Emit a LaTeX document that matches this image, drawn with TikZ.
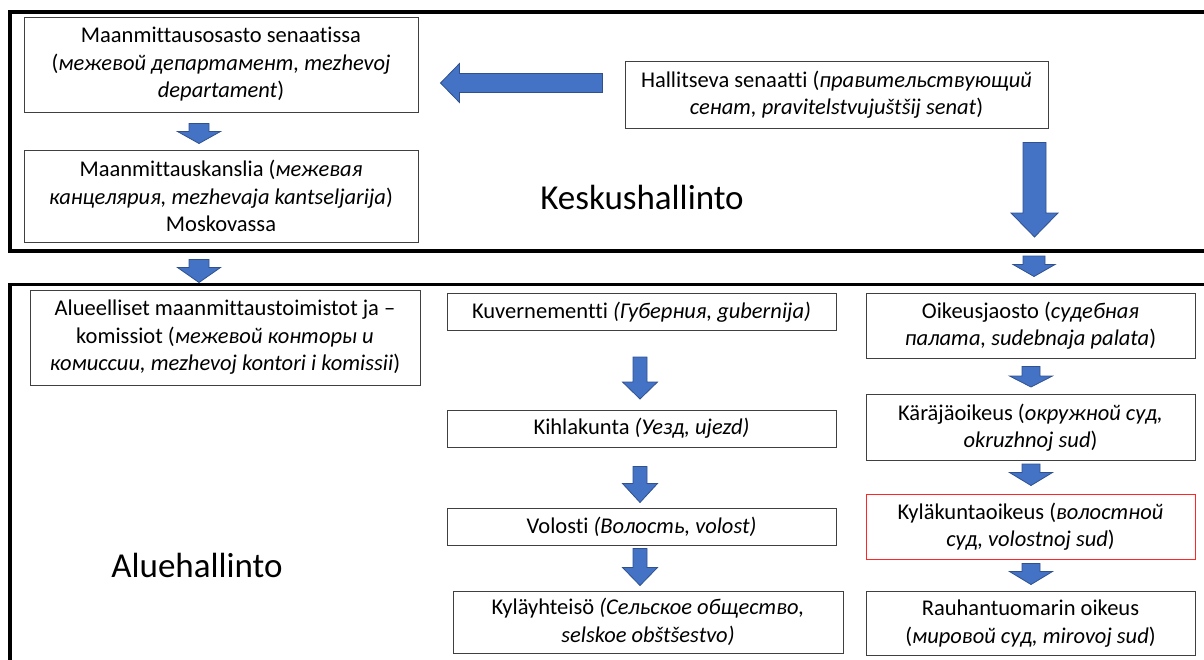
\documentclass[tikz,border=0pt]{standalone}
\usepackage{fontspec}
\setmainfont{Carlito}[Ligatures={TeX,NoCommon}]
\usetikzlibrary{calc,positioning}

\definecolor{arrowblue}{HTML}{4472C4}
\definecolor{arrowedge}{HTML}{2F528F}
\definecolor{boxedge}{HTML}{404040}

\newcommand{\blockdown}[5]{%
  \path[blockarrow] let \p1=#1, \p2=#2 in
    (\x1-#3pt,\y1) -- (\x1+#3pt,\y1) -- (\x1+#3pt,\y2+#5pt) -- (\x1+#4pt,\y2+#5pt)
    -- (\x1,\y2) -- (\x1-#4pt,\y2+#5pt) -- (\x1-#3pt,\y2+#5pt) -- cycle;}
\newcommand{\blockleft}[5]{%
  \path[blockarrow] let \p1=#1, \p2=#2 in
    (\x1,\y1+#3pt) -- (\x1,\y1-#3pt) -- (\x2+#5pt,\y1-#3pt) -- (\x2+#5pt,\y1-#4pt)
    -- (\x2,\y1) -- (\x2+#5pt,\y1+#4pt) -- (\x2+#5pt,\y1+#3pt) -- cycle;}

\begin{document}
\begin{tikzpicture}[x=1pt, y=1pt, node distance=100pt,
  box/.style={rectangle, draw=boxedge, line width=1pt, align=center, inner sep=0pt, font=\fontsize{22.5}{27.5}\selectfont},
  redbox/.style={box, draw=red!85!white},
  frame/.style={rectangle, draw=black, line width=3.5pt, inner sep=0pt, outer sep=0pt},
  level/.style={font=\fontsize{35}{40}\selectfont},
  blockarrow/.style={fill=arrowblue, draw=arrowedge, line width=0.8pt, line join=miter}]
  \useasboundingbox (0,0) rectangle (1204,-659);

  \node[frame, minimum width=1210pt, minimum height=239pt] (central) at (615,-131.5) {};
  \node[frame, minimum width=1210pt, minimum height=420pt] (regional) at (615,-494.5) {};
  \node[level] (keskus) at (642,-197) {Keskushallinto};
  \node[level] (alue) at (197,-565) {Aluehallinto};

  \node[box, minimum width=394pt, minimum height=95pt] (survdept) at (221,-64.5) {Maanmittausosasto senaatissa\\(\textit{межевой департамент, mezhevoj}\\\textit{departament})};
  \node[box, minimum width=394pt, minimum height=92pt, below of=survdept, node distance=131.5pt] (chancery) {Maanmittauskanslia (\textit{межевая}\\\textit{канцелярия, mezhevaja kantseljarija})\\Moskovassa};
  \node[box, minimum width=423pt, minimum height=67pt] (senate) at (836.5,-94.5) {Hallitseva senaatti (\textit{правительствующий}\\\textit{сенат, pravitelstvujuštšij senat})};

  \node[box, minimum width=390pt, minimum height=95pt] (offices) at (225,-337.5) {Alueelliset maanmittaustoimistot ja –\\komissiot (\textit{межевой конторы и}\\\textit{комиссии, mezhevoj kontori i komissii})};
  \node[box, minimum width=389pt, minimum height=37pt] (gubernia) at (641.5,-312) {Kuvernementti \textit{(Губерния, gubernija)}};
  \node[box, minimum width=389pt, minimum height=37pt, below of=gubernia, node distance=116.5pt] (uezd) {Kihlakunta \textit{(Уезд, ujezd)}};
  \node[box, minimum width=389pt, minimum height=37pt, below of=uezd, node distance=98pt] (volost) {Volosti \textit{(Волость, volost)}};
  \node[box, minimum width=390pt, minimum height=62pt] (obshchestvo) at (648,-622) {Kyläyhteisö \textit{(Сельское общество,}\\\textit{selskoe obštšestvo)}};

  \node[box, minimum width=329pt, minimum height=65pt] (palata) at (1030.5,-325.5) {Oikeusjaosto (\textit{судебная}\\\textit{палата, sudebnaja palata})};
  \node[box, minimum width=329pt, minimum height=66pt, below of=palata, node distance=102pt] (okrug) {Käräjäoikeus (\textit{окружной суд,}\\\textit{okruzhnoj sud})};
  \node[redbox, minimum width=329pt, minimum height=65pt, below of=okrug, node distance=99pt] (volsud) {Kyläkuntaoikeus (\textit{волостной}\\\textit{суд, volostnoj sud})};
  \node[box, minimum width=329pt, minimum height=64pt, below of=volsud, node distance=97pt] (mirsud) {Rauhantuomarin oikeus\\(\textit{мировой суд, mirovoj sud})};

  \blockleft{($(senate.west)+(-22,11.5)$)}{($(survdept.east)+(22,-18.5)$)}{9.5}{19.5}{19}
  \blockdown{($(survdept.south)+(-22,-11)$)}{($(chancery.north)+(-22,6)$)}{10}{21.5}{12}
  \blockdown{($(chancery.south)+(-22,-17)$)}{($(offices.north)+(-26,7)$)}{10}{21.5}{15}
  \blockdown{($(senate.south)+(198,-14)$)}{($(senate.south |- central.south)+(198,14)$)}{11.5}{23.5}{24}
  \blockdown{($(palata.north |- central.south)+(3.5,-5)$)}{($(palata.north)+(3.5,16)$)}{11}{21}{12}

  \blockdown{($(gubernia.south)+(-1.5,-26)$)}{($(uezd.north)+(-1.5,10.5)$)}{7}{17.5}{17}
  \blockdown{($(uezd.south)+(-1.5,-19)$)}{($(volost.north)+(-1.5,5)$)}{7}{17.5}{19}
  \blockdown{($(volost.south)+(-1.5,-3)$)}{($(obshchestvo.north)+(-8,5)$)}{7}{17.5}{18}

  \blockdown{($(palata.south)+(0.5,-8)$)}{($(okrug.north)+(0.5,7)$)}{9}{21.5}{11}
  \blockdown{($(okrug.south)+(0.5,-3)$)}{($(volsud.north)+(0.5,8)$)}{9}{21.5}{13}
  \blockdown{($(volsud.south)+(0.5,-4)$)}{($(mirsud.north)+(0.5,6.5)$)}{9}{21.5}{13}
\end{tikzpicture}
\end{document}
